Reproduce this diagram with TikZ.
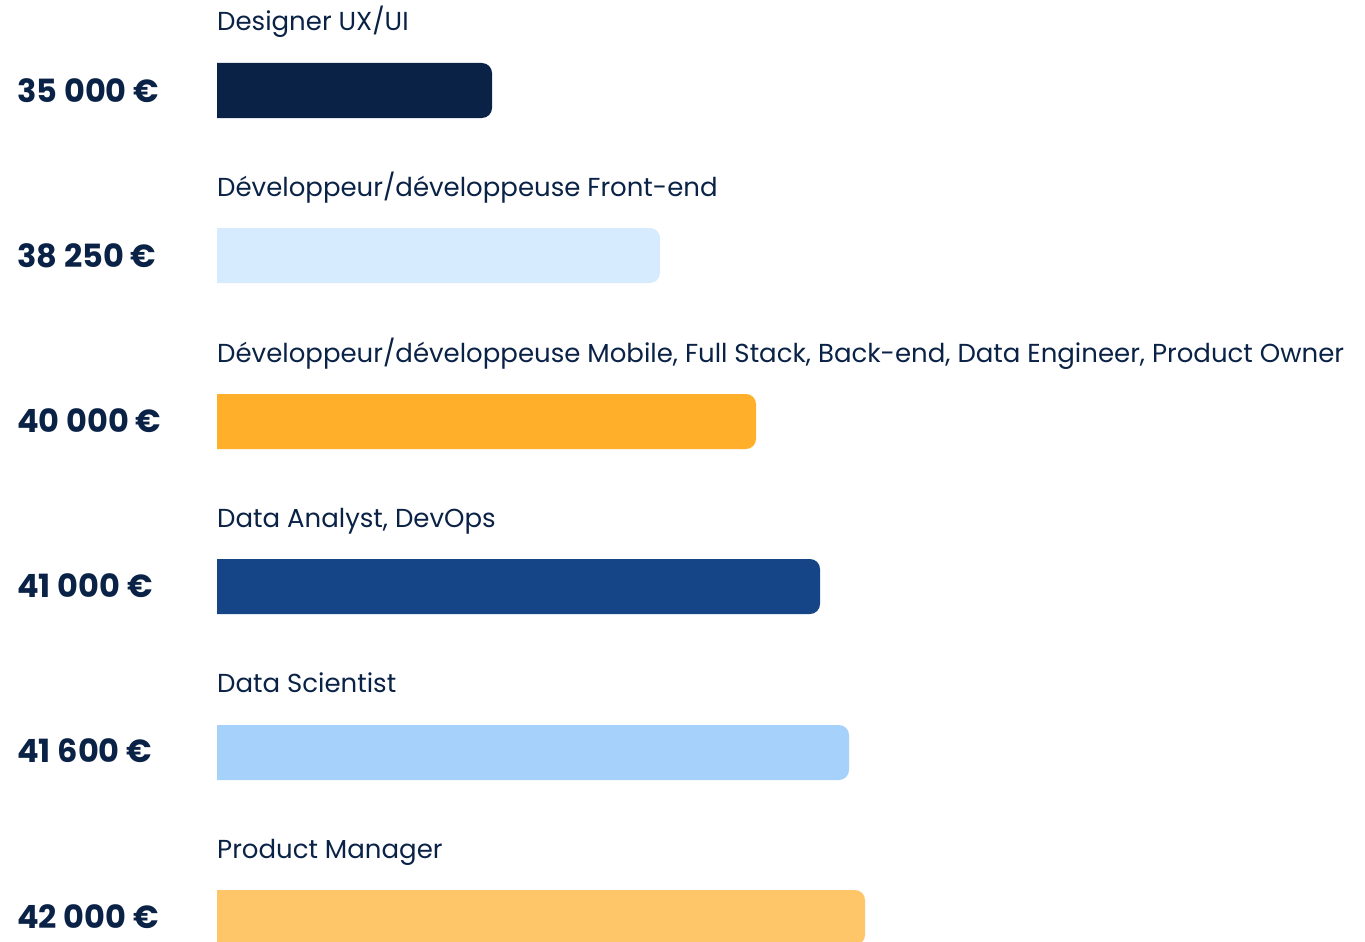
\documentclass[tikz,border=0pt]{standalone}
\usepackage{fontspec}
\setmainfont{Poppins}
\usetikzlibrary{backgrounds}
\definecolor{navy}{HTML}{0A2246}
\definecolor{paleblue}{HTML}{D6EBFE}
\definecolor{orange}{HTML}{FFAF29}
\definecolor{midblue}{HTML}{154586}
\definecolor{skyblue}{HTML}{A6D1FA}
\definecolor{sand}{HTML}{FFC569}

\begin{document}
\begin{tikzpicture}[x=1pt, y=-1pt,
  job/.style={anchor=base west, inner sep=0pt, text=navy, font=\fontsize{26}{31}\selectfont},
  salary/.style={anchor=base west, inner sep=0pt, text=navy, font=\fontsize{32}{38}\selectfont\bfseries}]
\useasboundingbox (0,0) rectangle (1365,942);
\clip (0,0) rectangle (1365,942);
\foreach \top/\right/\col in {63/492/navy, 228/660/paleblue, 394/756/orange, 559/820/midblue, 725/849/skyblue, 890/865/sand} % edit here for the bars
\fill[\col] (217,\top) [rounded corners=10pt] -- (\right,\top) -- (\right,\top+55) [sharp corners] -- (217,\top+55) -- cycle;
% job titles
\node[job] (designer) at (217,31) {Designer UX/UI};
\node[job] (front) at (217,196) {Développeur/développeuse Front-end};
\node[job] (mobile) at (217,362) {Développeur/développeuse Mobile, Full Stack, Back-end, Data Engineer, Product Owner};
\node[job] (analyst) at (217,527) {Data Analyst, DevOps};
\node[job] (scientist) at (217,692) {Data Scientist};
\node[job] (manager) at (217,858) {Product Manager};
% salaries
\node[salary] (s35) at (17,102) {35 000 €};
\node[salary] (s38) at (17,267) {38 250 €};
\node[salary] (s40) at (17,432) {40 000 €};
\node[salary] (s41) at (17,597) {41 000 €};
\node[salary] (s416) at (17,762) {41 600 €};
\node[salary] (s42) at (17,928) {42 000 €};
\end{tikzpicture}
\end{document}
